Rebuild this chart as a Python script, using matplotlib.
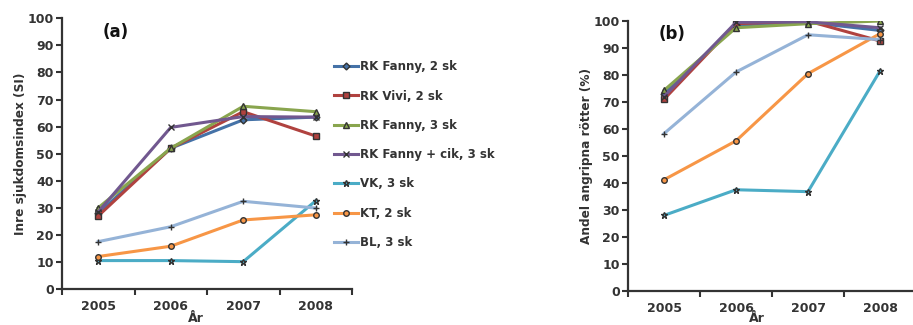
import matplotlib
matplotlib.use("Agg")
import matplotlib.pyplot as plt
from matplotlib.ticker import FixedLocator, MultipleLocator

years = ["2005", "2006", "2007", "2008"]
series_names = ["RK Fanny, 2 sk", "RK Vivi, 2 sk", "RK Fanny, 3 sk",
                "RK Fanny + cik, 3 sk", "VK, 3 sk", "KT, 2 sk", "BL, 3 sk"]

# Panel (a): Inre sjukdomsindex (SI)
si_rk_fanny_2 = [28.0, 52.0, 62.5, 63.5]
si_rk_vivi_2 = [27.0, 52.0, 65.5, 56.5]
si_rk_fanny_3 = [30.0, 52.0, 67.5, 65.5]
si_rk_fanny_cik_3 = [28.5, 59.7, 63.7, 63.5]
si_vk_3 = [10.5, 10.5, 10.1, 32.6]
si_kt_2 = [12.0, 15.8, 25.5, 27.4]
si_bl_3 = [17.5, 23.0, 32.4, 29.9]

# Panel (b): Andel angripna rötter (%)
pct_rk_fanny_2 = [73.0, 98.5, 99.5, 96.5]
pct_rk_vivi_2 = [71.0, 99.0, 100.0, 92.6]
pct_rk_fanny_3 = [74.3, 97.5, 99.0, 100.0]
pct_rk_fanny_cik_3 = [72.0, 99.5, 99.7, 97.5]
pct_vk_3 = [28.0, 37.5, 36.8, 81.5]
pct_kt_2 = [41.2, 55.6, 80.5, 95.3]
pct_bl_3 = [58.3, 81.1, 94.9, 93.1]

si_data = [si_rk_fanny_2, si_rk_vivi_2, si_rk_fanny_3, si_rk_fanny_cik_3,
           si_vk_3, si_kt_2, si_bl_3]
pct_data = [pct_rk_fanny_2, pct_rk_vivi_2, pct_rk_fanny_3, pct_rk_fanny_cik_3,
            pct_vk_3, pct_kt_2, pct_bl_3]

colors = ["#4572A7", "#B0423F", "#89A54E", "#71588F", "#4BACC6", "#F79646", "#95B3D7"]
markers = ["D", "s", "^", "x", "*", "o", "+"]
msizes = [3.5, 4, 4.5, 5, 5, 4, 5]

plt.rcParams['font.family'] = ['DejaVu Sans']

W, H = 913, 325
fig = plt.figure(figsize=(W / 100, H / 100), dpi=100)

ax_a = fig.add_axes([62 / W, 1 - 289 / H, (352 - 62) / W, (289 - 18.3) / H])
ax_b = fig.add_axes([628 / W, 1 - 291 / H, (916 - 628) / W, (291 - 21) / H])

x = list(range(len(years)))

def style(ax, ylabel, letter, letter_xy, xlab_x, ylab_x):
    ax.set_xlim(-0.5, len(years) - 0.5)
    ax.set_ylim(0, 100)
    ax.yaxis.set_major_locator(MultipleLocator(10))
    ax.set_xticks(x)
    ax.set_xticklabels(years)
    ax.xaxis.set_minor_locator(FixedLocator([i - 0.5 for i in range(len(years) + 1)]))
    ax.tick_params(axis='x', which='major', length=0, pad=8, labelsize=9, colors='#333333')
    ax.tick_params(axis='x', which='minor', length=4, width=1.5, direction='out', color='#333333')
    ax.tick_params(axis='y', which='major', length=4, width=1.5, direction='out',
                   labelsize=9, colors='#333333', pad=2)
    for lab in ax.get_xticklabels() + ax.get_yticklabels():
        lab.set_fontweight('bold')
        lab.set_color('#333333')
    for s in ['top', 'right']:
        ax.spines[s].set_visible(False)
    for s in ['left', 'bottom']:
        ax.spines[s].set_linewidth(1.6)
        ax.spines[s].set_color('#333333')
    ax.set_ylabel(ylabel, fontsize=8.7, fontweight='bold', color='#333333')
    ax.yaxis.set_label_coords(ylab_x, 0.5)
    fig.text(letter_xy[0] / W, 1 - letter_xy[1] / H, letter, fontsize=12,
             fontweight='bold', va='top', ha='left', color='#111111')
    fig.text(xlab_x / W, 1 - 319 / H, "År", ha='center', va='center',
             fontsize=9, fontweight='bold', color='#333333')

handles = []
for i, name in enumerate(series_names):
    h, = ax_a.plot(x, si_data[i], color=colors[i], lw=2.2, marker=markers[i],
                   ms=msizes[i], mfc=colors[i], mec='#333333',
                   mew=1.0, label=name, zorder=3 + i * 0.1)
    handles.append(h)
    ax_b.plot(x, pct_data[i], color=colors[i], lw=2.2, marker=markers[i],
              ms=msizes[i], mfc=colors[i], mec='#333333', mew=1.0, zorder=3 + i * 0.1)

style(ax_a, "Inre sjukdomsindex (SI)", "(a)", (103, 23), 196, -0.121)
style(ax_b, "Andel angripna rötter (%)", "(b)", (659, 25), 757, -0.121)

leg = fig.legend(handles=handles, loc='upper left', bbox_to_anchor=(326 / W, 1 - 52 / H),
                 frameon=False, fontsize=8.5, handlelength=2.0, handletextpad=0.2,
                 labelspacing=1.38, borderpad=0.2)
for t in leg.get_texts():
    t.set_fontweight('bold')
    t.set_color('#333333')

fig.savefig("out.png", dpi=100)
